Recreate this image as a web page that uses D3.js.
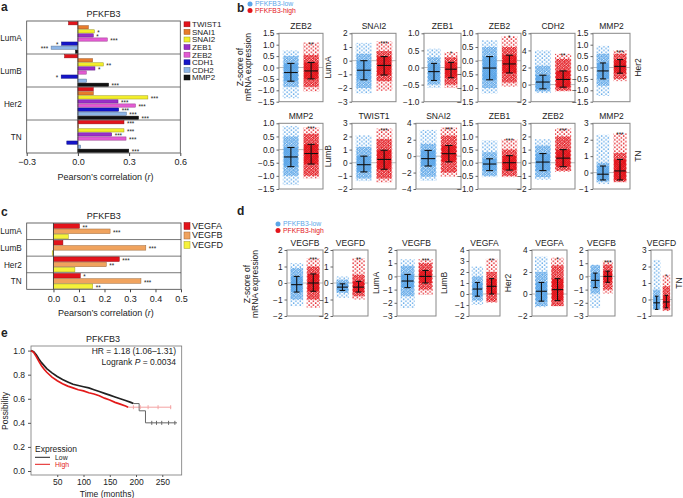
<!DOCTYPE html>
<html>
<head>
<meta charset="utf-8">
<script src="https://cdn.jsdelivr.net/npm/d3@7"></script>
<style>
body { margin: 0; background: #fff; }
text { font-family: "Liberation Sans", Arial, Helvetica, sans-serif; }
</style>
</head>
<body>
<div id="chart"></div>
<script>
// ---- panel a : correlations with EMT genes ----
var subtypes = ["LumA", "LumB", "Her2", "TN"];
var genesA = ["TWIST1", "SNAI1", "SNAI2", "ZEB1", "ZEB2", "CDH1", "CDH2", "MMP2"];
var rLumA = [-0.055, 0.061, 0.096, 0.09, 0.172, -0.096, -0.157, -0.014];
var rLumB = [-0.078, 0.086, 0.149, 0.1, 0.049, -0.098, 0.051, 0.18];
var rHer2 = [0.09, 0.09, 0.41, 0.235, 0.337, 0.239, 0.284, 0.355];
var rTN = [0.27, 0.003, 0.27, 0.198, 0.282, -0.065, 0.016, 0.298];
var sLumA = ["", "", "*", "*", "***", "*", "***", ""];
var sLumB = ["", "", "**", "*", "", "*", "", "***"];
var sHer2 = ["", "", "***", "***", "***", "***", "***", "***"];
var sTN = ["***", "", "***", "***", "***", "", "", "***"];
var ticksA = [-0.3, 0, 0.3, 0.6];

// ---- panel c : correlations with VEGF genes ----
var genesC = ["VEGFA", "VEGFB", "VEGFD"];
var vLumA = [0.102, 0.222, 0.058];
var vLumB = [0.037, 0.362, -0.005];
var vHer2 = [0.258, 0.207, 0.084];
var vTN = [0.105, 0.343, 0.154];
var tLumA = ["**", "***", ""];
var tLumB = ["", "***", ""];
var tHer2 = ["***", "**", ""];
var tTN = ["*", "***", "**"];
var ticksC = [0, 0.1, 0.2, 0.3, 0.4, 0.5];

// ---- panel b : dot plots (low / high PFKFB3) ----
var bGenes = ["ZEB2", "SNAI2", "ZEB1", "ZEB2", "CDH2", "MMP2", "MMP2", "TWIST1", "SNAI2", "ZEB1", "ZEB2", "MMP2"];
var bTicks = [[1.5, 1, 0.5, 0, -0.5, -1, -1.5], [2, 1, 0, -1, -2, -3], [1, 0.5, 0, -0.5, -1], [1, 0.5, 0, -0.5, -1, -1.5],
  [6, 4, 2, 0, -2], [1.5, 1, 0.5, 0, -0.5, -1, -1.5], [1, 0.5, 0, -0.5, -1, -1.5], [3, 2, 1, 0, -1, -2],
  [4, 2, 0, -2, -4], [1.5, 1, 0.5, 0, -0.5, -1], [3, 2, 1, 0, -1, -2], [3, 2, 1, 0, -1]];
var bStars = ["**", "***", "*", "*", "**", "***", "***", "***", "***", "***", "***", "***"];
var bLowMean = [-0.22, -0.7, -0.12, -0.27, 0.3, -0.15, -0.28, -0.15, -0.3, -0.05, 0.05, -0.1];
var bLowSd = [[-0.6, 0.18], [-1.4, 0], [-0.38, 0.12], [-0.7, 0.15], [-0.5, 1.1], [-0.5, 0.2], [-0.65, 0.08], [-0.7, 0.5], [-1.2, 0.7], [-0.3, 0.15], [-0.6, 0.7], [-0.45, 0.4]];
var bLowCore = [[-0.85, 0.5], [-2, 0.5], [-0.5, 0.3], [-1, 0.5], [-0.8, 2.2], [-0.8, 0.6], [-1, 0.5], [-1.2, 1.2], [-2.5, 1.5], [-0.5, 0.4], [-1.1, 1.3], [-0.55, 0.6]];
var bLowRange = [[-1.35, 0.75], [-2.4, 1.3], [-0.6, 0.55], [-1.2, 0.75], [-1, 4], [-1.25, 0.95], [-1.35, 0.9], [-1.4, 2.1], [-3, 3.2], [-0.55, 0.85], [-1.3, 1.8], [-0.7, 2.3]];
var bHighMean = [-0.15, -0.35, -0.05, -0.12, 0.6, 0.05, -0.15, 0.25, 0.3, 0, 0.35, 0.1];
var bHighSd = [[-0.5, 0.22], [-1.05, 0.3], [-0.3, 0.15], [-0.45, 0.2], [-0.3, 1.6], [-0.25, 0.35], [-0.55, 0.2], [-0.5, 0.95], [-0.7, 1.3], [-0.28, 0.27], [-0.3, 1], [-0.45, 0.8]];
var bHighCore = [[-0.85, 0.55], [-1.5, 0.7], [-0.5, 0.3], [-0.8, 0.5], [-0.7, 3], [-0.5, 0.6], [-1, 0.6], [-1.2, 1.8], [-2, 2.5], [-0.5, 0.5], [-0.6, 2], [-0.55, 1.2]];
var bHighRange = [[-1.05, 1.1], [-2.2, 1.4], [-0.6, 0.45], [-0.95, 0.9], [-0.8, 3.6], [-0.6, 0.75], [-1.1, 0.85], [-1.5, 2.6], [-2.5, 3.5], [-0.55, 0.9], [-0.7, 2.6], [-0.6, 2.4]];
var bGroups = ["LumA", "Her2", "LumB", "TN"];

// ---- panel d : dot plots (VEGF genes) ----
var dGenes = ["VEGFB", "VEGFD", "VEGFB", "VEGFA", "VEGFA", "VEGFB", "VEGFD"];
var dTicks = [[2, 1, 0, -1, -2], [2, 1, 0, -1, -2], [2, 1, 0, -1, -2, -3], [4, 3, 2, 1, 0, -1, -2], [4, 2, 0, -2], [2, 1, 0, -1, -2, -3], [3, 2, 1, 0, -1]];
var dStars = ["***", "**", "***", "**", "*", "***", "*"];
var dLowMean = [-0.1, -0.25, -0.35, 0.45, 0.25, -0.3, -0.2];
var dLowSd = [[-0.55, 0.4], [-0.45, -0.05], [-0.85, 0.15], [-0.2, 1.05], [-0.65, 1.05], [-0.85, 0.25], [-0.6, 0.2]];
var dLowCore = [[-1, 0.9], [-0.6, 0.2], [-1.5, 0.8], [-0.6, 1.6], [-1.1, 2], [-1.3, 0.85], [-0.6, 0.6]];
var dLowRange = [[-1.4, 1.2], [-0.9, 0.4], [-2.4, 1.3], [-1, 2.5], [-1.2, 3.4], [-2.4, 0.9], [-0.6, 2.4]];
var dHighMean = [0, -0.25, 0, 0.7, 0.4, 0, -0.15];
var dHighSd = [[-0.5, 0.55], [-0.55, 0.1], [-0.5, 0.45], [0, 1.4], [-0.6, 1.4], [-0.45, 0.4], [-0.5, 0.25]];
var dHighCore = [[-1, 1], [-0.8, 0.5], [-1, 1], [-0.7, 2], [-1.1, 2.6], [-1, 0.9], [-0.65, 0.8]];
var dHighRange = [[-1.5, 1.5], [-1, 1.5], [-1.4, 1.3], [-0.8, 3.2], [-1.1, 3.3], [-1.3, 1.2], [-0.7, 1.5]];
var dGroups = ["LumA", "LumB", "Her2", "TN"];

// ---- panel e : Kaplan-Meier ----
var lowT = [0, 5, 10, 15, 20, 25, 30, 40, 50, 60, 70, 80, 90, 100, 110, 120, 130, 140, 150, 160, 170, 180, 190, 195];
var lowS = [1, 0.99, 0.965, 0.93, 0.9, 0.875, 0.85, 0.815, 0.785, 0.76, 0.74, 0.72, 0.71, 0.7, 0.69, 0.675, 0.66, 0.645, 0.63, 0.615, 0.6, 0.585, 0.57, 0.56];
var lowTailT = [195, 206, 218, 278];
var lowTailS = [0.56, 0.5, 0.4, 0.4];
var lowCensor = [230, 239, 249, 262, 274];
var highT = [0, 5, 10, 15, 20, 25, 30, 40, 50, 60, 70, 80, 90, 100, 110, 120, 130, 140, 150, 160, 170, 180, 185];
var highS = [1, 0.985, 0.95, 0.91, 0.875, 0.845, 0.82, 0.78, 0.75, 0.725, 0.705, 0.69, 0.675, 0.665, 0.65, 0.64, 0.625, 0.605, 0.59, 0.57, 0.555, 0.54, 0.53];
var highTailT = [185, 267];
var highTailS = [0.53, 0.53];
var highCensor = [195, 208, 223, 242, 266];

var colorsA = ["#e3131b", "#e87b2b", "#f2ee2c", "#9a2fc9", "#e45bd3", "#1515c8", "#8db5e6", "#111111"];
var colorsC = ["#e3131b", "#f0a35e", "#f5f23a"];
var blue = "#5ca6e8", red = "#e3141b";

var svg = d3.select("#chart").append("svg").attr("width", 683).attr("height", 498);
svg.append("rect").attr("width", 683).attr("height", 498).attr("fill", "#fff");

// dot textures for the clouds: sparse tails, denser core, near solid inside the sd band
var defs = svg.append("defs");
function pattern(id, col, w, h, r, pts) {
  var p = defs.append("pattern").attr("id", id).attr("patternUnits", "userSpaceOnUse")
    .attr("width", w).attr("height", h);
  pts.forEach(function(q) {
    p.append("circle").attr("cx", q[0]).attr("cy", q[1]).attr("r", r).attr("fill", col);
  });
}
[["low", blue], ["high", red]].forEach(function(c) {
  pattern(c[0] + "Sparse", c[1], 4.4, 3.8, 0.85, [[1.1, 1], [3.3, 2.9]]);
  pattern(c[0] + "Core", c[1], 2.6, 2.4, 0.9, [[0.65, 0.6], [1.95, 1.8]]);
  pattern(c[0] + "Band", c[1], 2, 2, 1.05, [[0.5, 0.5], [1.5, 1.5]]);
});

function label(x, y, s, size, opt) {
  opt = opt || {};
  var t = svg.append("text").attr("x", x).attr("y", y).attr("font-size", size + "px")
    .attr("text-anchor", opt.anchor || "start").attr("fill", opt.fill || "#222").text(s);
  if (opt.bold) t.attr("font-weight", "bold");
  if (opt.rotate) t.attr("transform", "rotate(-90," + x + "," + y + ")");
  return t;
}

// ---------- horizontal bar panels ----------
function barPanel(p) {
  var g = svg.append("g");
  var x = d3.scaleLinear().domain(p.domain).range([p.x0, p.x1]);
  var gy = d3.scaleBand().domain(subtypes).range([p.y0, p.y1]);
  var by = d3.scaleBand().domain(p.genes).range([0, gy.bandwidth()]).paddingInner(p.padIn).paddingOuter(p.padOut);

  subtypes.forEach(function(s, i) {
    var top = gy(s);
    if (i > 0) g.append("line").attr("x1", p.x0).attr("x2", p.x1).attr("y1", top).attr("y2", top)
      .attr("stroke", "#555").attr("stroke-width", 0.8);
    label(p.x0 - 5, top + gy.bandwidth() / 2 + 3.1, s, 8.2, {anchor: "end"});
    p.values[i].forEach(function(v, j) {
      var yy = top + by(p.genes[j]);
      g.append("rect").attr("x", Math.min(x(0), x(v))).attr("y", yy)
        .attr("width", Math.abs(x(v) - x(0))).attr("height", by.bandwidth())
        .attr("fill", p.colors[j]).attr("stroke", d3.color(p.colors[j]).darker(1.2)).attr("stroke-width", 0.5);
      var st = p.stars[i][j];
      if (st) {
        g.append("text").attr("x", v >= 0 ? x(v) + 3 : x(v) - 3).attr("y", yy + by.bandwidth() / 2 + 3.6)
          .attr("text-anchor", v >= 0 ? "start" : "end").attr("font-size", "6.3px").attr("fill", "#222").text(st);
      }
    });
  });
  g.append("line").attr("x1", x(0)).attr("x2", x(0)).attr("y1", p.y0).attr("y2", p.y1)
    .attr("stroke", "#333").attr("stroke-width", 0.8);
  g.append("rect").attr("x", p.x0).attr("y", p.y0).attr("width", p.x1 - p.x0).attr("height", p.y1 - p.y0)
    .attr("fill", "none").attr("stroke", "#444").attr("stroke-width", 0.8);

  var ax = g.append("g").attr("transform", "translate(0," + p.y1 + ")")
    .call(d3.axisBottom(x).tickValues(p.ticks).tickSize(3).tickFormat(d3.format(".1f")));
  ax.select(".domain").remove();
  ax.selectAll("line").attr("stroke", "#444");
  ax.selectAll("text").attr("font-size", "9px").attr("fill", "#222").attr("font-family", null);

  label((p.x0 + p.x1) / 2, p.y0 - 4, "PFKFB3", 9, {anchor: "middle"});
  var at = svg.append("text").attr("x", (p.x0 + p.x1) / 2 + 2).attr("y", p.y1 + 27).attr("font-size", "9px")
    .attr("text-anchor", "middle").attr("fill", "#222");
  at.append("tspan").text("Pearson\u2019s correlation (");
  at.append("tspan").attr("font-style", "italic").text("r");
  at.append("tspan").text(")");

  p.genes.forEach(function(gn, j) {
    var yy = p.legY + j * p.legStep;
    svg.append("rect").attr("x", 184).attr("y", yy - p.legH / 2).attr("width", 6).attr("height", p.legH)
      .attr("fill", p.colors[j]).attr("stroke", d3.color(p.colors[j]).darker(1.2)).attr("stroke-width", 0.5);
    label(192, yy + 2.9, gn, p.legFont);
  });
}

barPanel({x0: 26.7, x1: 180.3, y0: 21, y1: 153, domain: [-0.3, 0.6], ticks: ticksA, genes: genesA,
  colors: colorsA, values: [rLumA, rLumB, rHer2, rTN], stars: [sLumA, sLumB, sHer2, sTN],
  padIn: 0.2, padOut: 0.15, legY: 24.3, legStep: 7.6, legH: 5, legFont: 8});

barPanel({x0: 26.7, x1: 181, y0: 223, y1: 289.3, domain: [-0.105, 0.5], ticks: ticksC, genes: genesC,
  colors: colorsC, values: [vLumA, vLumB, vHer2, vTN], stars: [tLumA, tLumB, tHer2, tTN],
  padIn: 0.12, padOut: 0.15, legY: 226, legStep: 9.5, legH: 7, legFont: 9});

// ---------- dot plots ----------
function dotPlot(p) {
  var g = svg.append("g");
  var y = d3.scaleLinear().domain(d3.extent(p.ticks)).range([p.y1, p.y0]);
  var w = p.x1 - p.x0, cw = w * 0.37;
  var cx = [p.x0 + w * 0.27, p.x0 + w * 0.73];
  var fmt = p.ticks.some(function(t) { return t % 1 !== 0; }) ? d3.format(".1f") : d3.format("d");

  g.append("line").attr("x1", p.x0).attr("x2", p.x1).attr("y1", y(0)).attr("y2", y(0))
    .attr("stroke", "#aaa").attr("stroke-width", 0.8);

  [p.low, p.high].forEach(function(s, k) {
    var nm = k === 0 ? "low" : "high";
    [["Sparse", s.range, 1], ["Core", s.core, 0.92], ["Band", s.sd, 0.86]].forEach(function(layer) {
      var wd = cw * layer[2];
      g.append("rect").attr("x", cx[k] - wd / 2).attr("width", wd)
        .attr("y", y(layer[1][1])).attr("height", y(layer[1][0]) - y(layer[1][1]))
        .attr("fill", "url(#" + nm + layer[0] + ")");
    });
    var eb = g.append("g").attr("stroke", "#111").attr("stroke-width", 1.1);
    eb.append("line").attr("x1", cx[k]).attr("x2", cx[k]).attr("y1", y(s.sd[0])).attr("y2", y(s.sd[1]));
    eb.append("line").attr("x1", cx[k] - cw * 0.42).attr("x2", cx[k] + cw * 0.42).attr("y1", y(s.mean)).attr("y2", y(s.mean));
    s.sd.forEach(function(v) {
      eb.append("line").attr("x1", cx[k] - cw * 0.22).attr("x2", cx[k] + cw * 0.22).attr("y1", y(v)).attr("y2", y(v));
    });
  });

  g.append("text").attr("x", cx[1]).attr("y", y(p.high.range[1]) + 4.2).attr("text-anchor", "middle")
    .attr("font-size", "6.5px").attr("fill", "#222").text(p.stars);

  g.append("rect").attr("x", p.x0).attr("y", p.y0).attr("width", w).attr("height", p.y1 - p.y0)
    .attr("fill", "none").attr("stroke", "#888").attr("stroke-width", 1);

  var ax = g.append("g").attr("transform", "translate(" + p.x0 + ",0)")
    .call(d3.axisLeft(y).tickValues(p.ticks).tickSize(2.5).tickPadding(2).tickFormat(fmt));
  ax.select(".domain").remove();
  ax.selectAll("line").attr("stroke", "#666");
  ax.selectAll("text").attr("font-size", "8.3px").attr("fill", "#222").attr("font-family", null);

  label((p.x0 + p.x1) / 2, p.y0 - 4.5, p.title, 8.5, {anchor: "middle"});
}

function stats(mean, sd, core, range, i) {
  return {mean: mean[i], sd: sd[i], core: core[i], range: range[i]};
}

// layout of the b grid
var bLeft = [279, 352, 424, 478, 531, 593, 279, 352, 416, 478, 531, 593];
var bRight = [323, 396, 461, 521, 575, 630, 323, 396, 461, 521, 575, 630];
var bTop = [33.3, 123.3], bBot = [101.7, 189];
bGenes.forEach(function(gn, i) {
  var r = i < 6 ? 0 : 1;
  dotPlot({x0: bLeft[i], x1: bRight[i], y0: bTop[r], y1: bBot[r], ticks: bTicks[i], title: gn, stars: bStars[i],
    low: stats(bLowMean, bLowSd, bLowCore, bLowRange, i),
    high: stats(bHighMean, bHighSd, bHighCore, bHighRange, i)});
});
var bGroupX = [331, 641, 331, 641], bGroupRow = [0, 0, 1, 1];
bGroups.forEach(function(s, i) {
  var r = bGroupRow[i];
  label(bGroupX[i], (bTop[r] + bBot[r]) / 2, s, 8.5, {anchor: "middle", rotate: true});
});

// layout of the d row
var dLeft = [287, 333, 397, 469, 532, 588, 651];
var dRight = [323, 368, 436, 500, 567, 615, 672];
var dTop = 250, dBot = 316;
dGenes.forEach(function(gn, i) {
  dotPlot({x0: dLeft[i], x1: dRight[i], y0: dTop, y1: dBot, ticks: dTicks[i], title: gn, stars: dStars[i],
    low: stats(dLowMean, dLowSd, dLowCore, dLowRange, i),
    high: stats(dHighMean, dHighSd, dHighCore, dHighRange, i)});
});
var dGroupX = [379, 447, 511, 682];
dGroups.forEach(function(s, i) {
  label(dGroupX[i], (dTop + dBot) / 2, s, 8.5, {anchor: "middle", rotate: true});
});

// y titles + legends for b and d
function zTitle(x, yc) {
  label(x, yc, "Z-score of", 8.5, {anchor: "middle", rotate: true});
  label(x + 8, yc, "mRNA expression", 8.5, {anchor: "middle", rotate: true});
}
zTitle(242.5, 67);
zTitle(250, 284);
function dotLegend(x, y) {
  svg.append("circle").attr("cx", x).attr("cy", y).attr("r", 2.5).attr("fill", blue);
  svg.append("circle").attr("cx", x).attr("cy", y + 6.5).attr("r", 2.5).attr("fill", red);
  label(x + 5, y + 2.4, "PFKFB3-low", 6.8, {fill: blue});
  label(x + 5, y + 8.9, "PFKFB3-high", 6.8, {fill: red});
}
dotLegend(250, 4);
dotLegend(278, 224);

// ---------- panel e ----------
(function() {
  var x0 = 31, x1 = 181.7, y0 = 346, y1 = 475;
  var x = d3.scaleLinear().domain([0, 287]).range([x0, x1]);
  var y = d3.scaleLinear().domain([0, 1]).range([471, 350.6]);
  var g = svg.append("g");
  g.append("rect").attr("x", x0).attr("y", y0).attr("width", x1 - x0).attr("height", y1 - y0)
    .attr("fill", "none").attr("stroke", "#777").attr("stroke-width", 0.8);

  var line = d3.line().x(function(d) { return x(d[0]); }).y(function(d) { return y(d[1]); });
  var step = d3.line().x(function(d) { return x(d[0]); }).y(function(d) { return y(d[1]); }).curve(d3.curveStepAfter);

  g.append("path").attr("d", step(d3.zip(highTailT, highTailS))).attr("fill", "none").attr("stroke", "#f4a3a3").attr("stroke-width", 1);
  g.append("path").attr("d", step(d3.zip(lowTailT, lowTailS))).attr("fill", "none").attr("stroke", "#666").attr("stroke-width", 1);
  highCensor.forEach(function(t) {
    g.append("line").attr("x1", x(t)).attr("x2", x(t)).attr("y1", y(0.53) - 2).attr("y2", y(0.53) + 2).attr("stroke", "#f4a3a3");
  });
  lowCensor.forEach(function(t) {
    g.append("line").attr("x1", x(t)).attr("x2", x(t)).attr("y1", y(0.4) - 2).attr("y2", y(0.4) + 2).attr("stroke", "#666");
  });
  g.append("path").attr("d", line(d3.zip(lowT, lowS))).attr("fill", "none").attr("stroke", "#222").attr("stroke-width", 1.7);
  g.append("path").attr("d", line(d3.zip(highT, highS))).attr("fill", "none").attr("stroke", "#e31a1a").attr("stroke-width", 1.7);

  var ay = g.append("g").attr("transform", "translate(" + x0 + ",0)")
    .call(d3.axisLeft(y).tickValues([0, 0.2, 0.4, 0.6, 0.8, 1]).tickSize(3).tickFormat(d3.format(".1f")));
  ay.select(".domain").remove();
  ay.selectAll("line").attr("stroke", "#555");
  ay.selectAll("text").attr("font-size", "8.5px").attr("fill", "#222").attr("font-family", null);
  var axx = g.append("g").attr("transform", "translate(0," + y1 + ")")
    .call(d3.axisBottom(x).tickValues([50, 100, 150, 200, 250]).tickSize(2).tickPadding(1.5).tickFormat(d3.format("d")));
  axx.select(".domain").remove();
  axx.selectAll("line").attr("stroke", "#555");
  axx.selectAll("text").attr("font-size", "8.5px").attr("fill", "#222").attr("font-family", null);

  label(103, 341.5, "PFKFB3", 9, {anchor: "middle"});
  label(176, 353.5, "HR = 1.18 (1.06\u20131.31)", 8.5, {anchor: "end"});
  var lt = svg.append("text").attr("x", 176).attr("y", 364.5).attr("font-size", "8.5px").attr("text-anchor", "end").attr("fill", "#222");
  lt.append("tspan").text("Logrank ");
  lt.append("tspan").attr("font-style", "italic").text("P");
  lt.append("tspan").text(" = 0.0034");
  label(8, 411, "Possibility", 8.5, {anchor: "middle", rotate: true});
  label(107, 496.5, "Time (months)", 8.5, {anchor: "middle"});

  label(35, 452, "Expression", 8.5);
  svg.append("line").attr("x1", 35).attr("x2", 50).attr("y1", 457.3).attr("y2", 457.3).attr("stroke", "#222").attr("stroke-width", 1);
  svg.append("line").attr("x1", 35).attr("x2", 50).attr("y1", 464.3).attr("y2", 464.3).attr("stroke", "#e31a1a").attr("stroke-width", 1);
  label(55, 459.6, "Low", 6.9);
  label(55, 466.7, "High", 6.9, {fill: "#e31a1a"});
})();

// panel letters
label(1, 11, "a", 12, {bold: true});
label(237, 12, "b", 12, {bold: true});
label(1, 216, "c", 12, {bold: true});
label(237, 215, "d", 12, {bold: true});
label(1, 337, "e", 12, {bold: true});
</script>
</body>
</html>
